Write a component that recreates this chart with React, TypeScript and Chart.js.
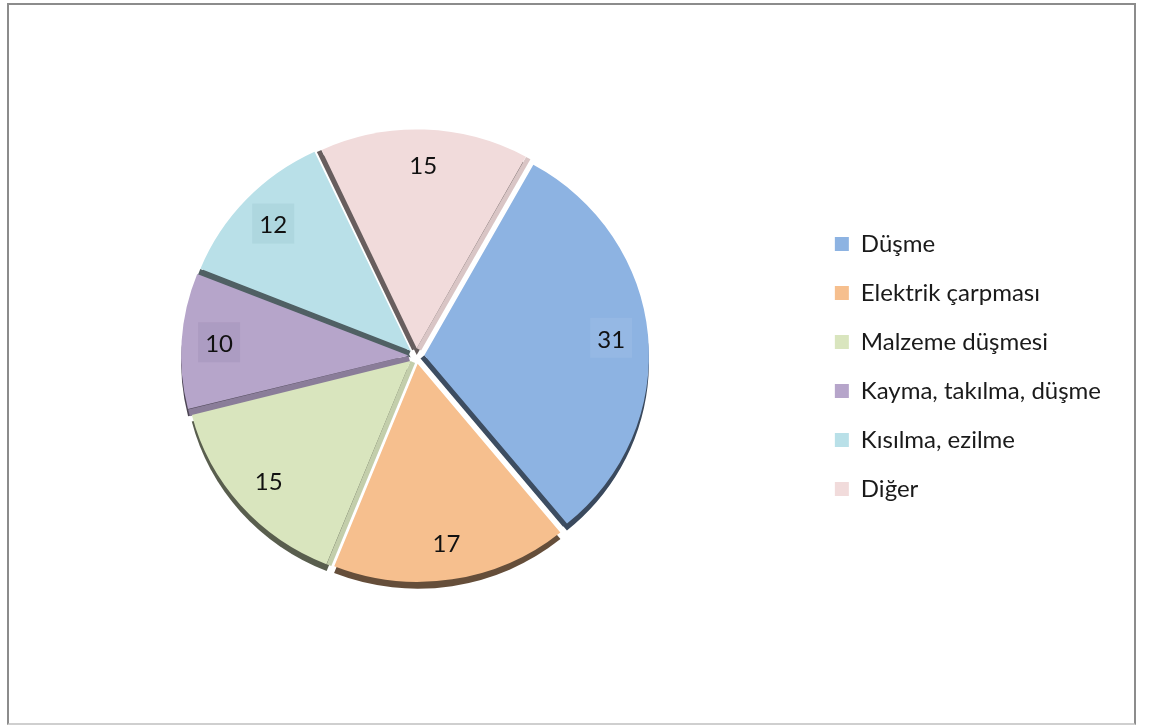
import React, { useEffect, useRef } from "react";
import { Chart, registerables } from "chart.js";

Chart.register(...registerables);

const categories = [
  "Düşme",
  "Elektrik çarpması",
  "Malzeme düşmesi",
  "Kayma, takılma, düşme",
  "Kısılma, ezilme",
  "Diğer",
];
const values = [31, 17, 15, 10, 12, 15];
const sliceColors = ["#8DB3E2", "#F6BF8E", "#D9E5BE", "#B6A5CA", "#B9E0E8", "#F1DBDB"];
const labelBoxFills: (string | null)[] = [
  "rgba(255,255,255,0.07)",
  null,
  null,
  "rgba(70,50,100,0.08)",
  "rgba(40,100,115,0.07)",
  null,
];

const DEPTH = 7;
const LABEL_RATIO = 0.835;
const TILT = 0.97;

function shade(hex: string, f: number) {
  const h = hex.replace("#", "");
  const r = parseInt(h.slice(0, 2), 16);
  const g = parseInt(h.slice(2, 4), 16);
  const b = parseInt(h.slice(4, 6), 16);
  return `rgb(${Math.round(r * f)},${Math.round(g * f)},${Math.round(b * f)})`;
}

function arcGeom(arc: any) {
  const a0 = arc.startAngle;
  const a1 = arc.endAngle;
  const off = (arc.options.offset || 0) / 4;
  const mid = (a0 + a1) / 2;
  const circ = a1 - a0;
  const fix = 1 - Math.sin(Math.min(Math.PI, circ));
  return {
    cx: arc.x + Math.cos(mid) * off,
    cy: arc.y + Math.sin(mid) * off,
    r: arc.outerRadius + off * fix,
    a0,
    a1,
    mid,
  };
}

const extrudePlugin = {
  id: "extrude",
  beforeDatasetsDraw(chart: any) {
    const ctx = chart.ctx as CanvasRenderingContext2D;
    const meta = chart.getDatasetMeta(0);
    const first = meta.data[0];
    ctx.save();
    ctx.translate(first.x, first.y);
    ctx.scale(1, TILT);
    ctx.translate(-first.x, -first.y);
    meta.data.forEach((arc: any, i: number) => {
      const g = arcGeom(arc);
      ctx.fillStyle = shade(sliceColors[i], 0.41);
      ctx.beginPath();
      ctx.moveTo(g.cx, g.cy + DEPTH);
      ctx.arc(g.cx, g.cy + DEPTH, g.r, g.a0, g.a1);
      ctx.closePath();
      ctx.fill();
    });
    meta.data.forEach((arc: any, i: number) => {
      const g = arcGeom(arc);
      const edges = [
        { a: g.a0, nx: Math.sin(g.a0), ny: -Math.cos(g.a0) },
        { a: g.a1, nx: -Math.sin(g.a1), ny: Math.cos(g.a1) },
      ];
      for (const e of edges) {
        if (e.ny < -0.15) continue;
        const w = Math.max(5, DEPTH * e.ny + 0.3);
        const qx = g.cx + g.r * Math.cos(e.a);
        const qy = g.cy + g.r * Math.sin(e.a);
        const f = Math.min(0.9, Math.max(0.43, 0.43 + (e.nx + 0.3) * 0.6));
        ctx.fillStyle = shade(sliceColors[i], f);
        ctx.beginPath();
        ctx.moveTo(g.cx, g.cy);
        ctx.lineTo(qx, qy);
        ctx.lineTo(qx + w * e.nx, qy + w * e.ny);
        ctx.lineTo(g.cx + w * e.nx, g.cy + w * e.ny);
        ctx.closePath();
        ctx.fill();
      }
    });
    // the transform stays active while the library draws the slices
  },
  afterDatasetsDraw(chart: any) {
    const ctx = chart.ctx as CanvasRenderingContext2D;
    ctx.restore();
    const meta = chart.getDatasetMeta(0);
    const first = meta.data[0];
    ctx.save();
    ctx.font = "24px Lato";
    ctx.textAlign = "center";
    ctx.textBaseline = "middle";
    meta.data.forEach((arc: any, i: number) => {
      const g = arcGeom(arc);
      const lx = g.cx + Math.cos(g.mid) * g.r * LABEL_RATIO;
      const ly0 = g.cy + Math.sin(g.mid) * g.r * LABEL_RATIO;
      const ly = first.y + (ly0 - first.y) * TILT;
      const fill = labelBoxFills[i];
      if (fill) {
        ctx.fillStyle = fill;
        ctx.fillRect(lx - 21, ly - 21, 42, 40);
      }
      ctx.fillStyle = "#111";
      ctx.fillText(String(values[i]), lx, ly + 1);
    });
    ctx.restore();
  },
};

export default function App() {
  const canvasRef = useRef<HTMLCanvasElement | null>(null);

  useEffect(() => {
    if (!canvasRef.current) return;
    Chart.defaults.font.family = "Lato";
    const chart = new Chart(canvasRef.current, {
      type: "pie",
      data: {
        labels: categories,
        datasets: [
          {
            data: values,
            backgroundColor: sliceColors,
            borderWidth: 0,
            offset: 32,
          },
        ],
      },
      options: {
        animation: false,
        responsive: true,
        maintainAspectRatio: false,
        rotation: 29,
        radius: 224,
        layout: { padding: { left: 14, right: 23, top: 0, bottom: 16 } },
        plugins: {
          tooltip: { enabled: false },
          legend: {
            position: "right",
            title: {
              display: true,
              text: " ",
              font: { size: 10 },
              padding: { top: 0, bottom: 9 },
            },
            labels: {
              boxWidth: 14,
              boxHeight: 14,
              padding: 25,
              color: "#1a1a1a",
              font: { family: "Lato", size: 24 },
            },
          },
        },
      },
      plugins: [extrudePlugin],
    });
    return () => chart.destroy();
  }, []);

  return (
    <div
      style={{
        position: "absolute",
        left: 7,
        top: 3,
        width: 1125,
        height: 718,
        borderTop: "2px solid #8c8c8c",
        borderLeft: "2px solid #8c8c8c",
        borderRight: "2px solid #8c8c8c",
        borderBottom: "2px solid #cfcfcf",
        background: "#fff",
      }}
    >
      <div style={{ position: "relative", width: 1125, height: 718 }}>
        <canvas ref={canvasRef} />
      </div>
    </div>
  );
}
